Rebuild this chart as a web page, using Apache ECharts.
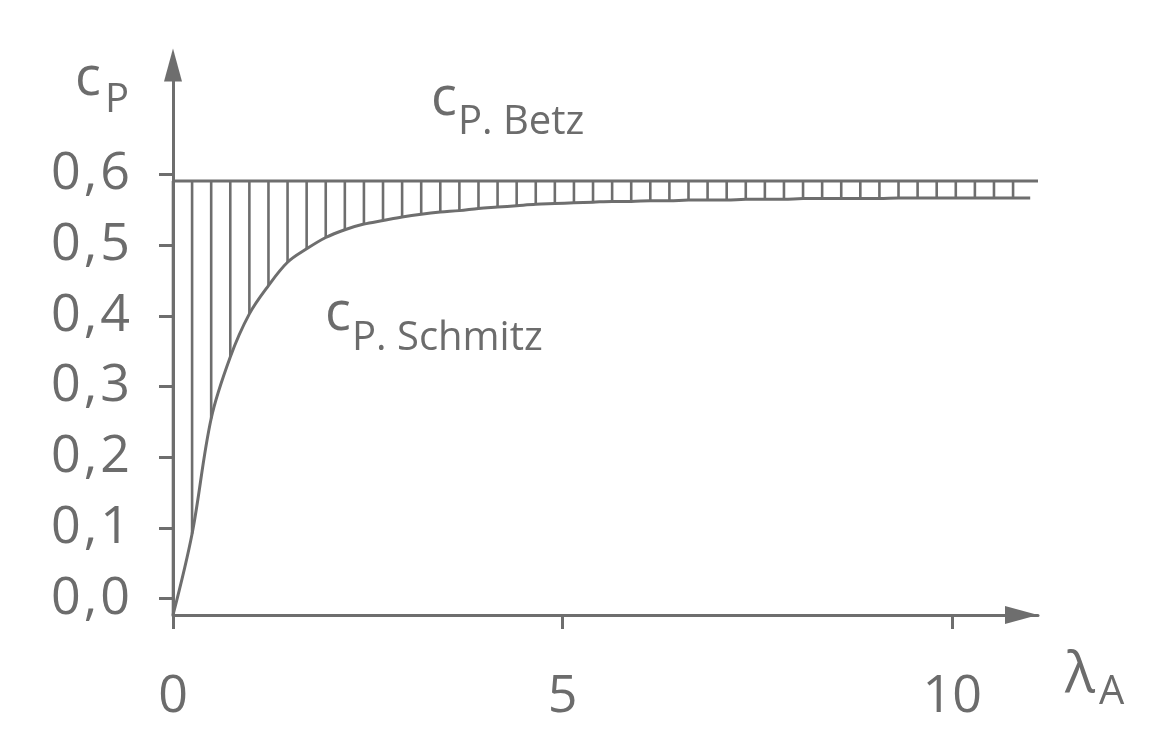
<!DOCTYPE html>
<html>
<head>
<meta charset="utf-8">
<script src="https://cdn.jsdelivr.net/npm/echarts@6/dist/echarts.min.js"></script>
<style>
html,body{margin:0;padding:0;background:#fff;}
#chart{width:1160px;height:752px;}
</style>
</head>
<body>
<div id="chart"></div>
<script>
// Tip speed ratio λ_A at the hatch lines (plus curve end)
const lambdaA = [0, 0.245, 0.49, 0.735, 0.98, 1.225, 1.47, 1.715, 1.96, 2.205, 2.45, 2.695, 2.94, 3.185, 3.43, 3.675, 3.92, 4.165, 4.41, 4.655, 4.9, 5.145, 5.39, 5.635, 5.88, 6.125, 6.37, 6.615, 6.86, 7.105, 7.35, 7.595, 7.84, 8.085, 8.33, 8.575, 8.82, 9.065, 9.31, 9.555, 9.8, 10.045, 10.29, 10.535, 10.78, 11.0];
// c_P Schmitz curve values read at those positions
const cpSchmitz = [-0.023, 0.092, 0.255, 0.342, 0.403, 0.443, 0.476, 0.495, 0.511, 0.522, 0.530, 0.535, 0.540, 0.544, 0.547, 0.549, 0.552, 0.554, 0.556, 0.558, 0.559, 0.560, 0.561, 0.562, 0.562, 0.563, 0.563, 0.564, 0.564, 0.564, 0.565, 0.565, 0.565, 0.566, 0.566, 0.566, 0.566, 0.566, 0.567, 0.567, 0.567, 0.567, 0.567, 0.567, 0.567, 0.567];
// Betz limit line
const betzLambda = [0, 11.1];
const cpBetz = [0.591, 0.591];
// tick labels
const xTicks = [0, 5, 10];
const yTicks = [0, 0.1, 0.2, 0.3, 0.4, 0.5, 0.6];
const hatchCount = 45;

const GREY = '#6e6e6e';
const TXT = '#6c6c6c';
const FONT = '"Open Sans", "Noto Sans", sans-serif';

const schmitzData = lambdaA.map((x, i) => [x, cpSchmitz[i]]);
const hatchData = schmitzData.slice(0, hatchCount);
const betzData = betzLambda.map((x, i) => [x, cpBetz[i]]);

const chart = echarts.init(document.getElementById('chart'), null, {renderer: 'canvas'});
chart.setOption({
  animation: false,
  backgroundColor: '#ffffff',
  grid: {left: 173, right: 122, top: 65, bottom: 137, containLabel: false},
  xAxis: {
    type: 'value', min: 0, max: 11.1,
    axisLine: {onZero: false, lineStyle: {color: GREY, width: 3}, symbol: ['none', 'triangle'], symbolSize: [18, 33], symbolOffset: [0, -16.5]},
    axisTick: {show: true, length: 14, lineStyle: {color: GREY, width: 3}, customValues: xTicks},
    axisLabel: {customValues: xTicks, margin: 56, color: TXT, fontSize: 52, fontFamily: FONT},
    splitLine: {show: false}
  },
  yAxis: {
    type: 'value', min: -0.023, max: 0.755,
    axisLine: {onZero: false, lineStyle: {color: GREY, width: 3}, symbol: ['none', 'triangle'], symbolSize: [18, 33]},
    axisTick: {show: true, length: 14, lineStyle: {color: GREY, width: 3}, customValues: yTicks},
    axisLabel: {
      customValues: yTicks, margin: 43, color: TXT, fontSize: 52, fontFamily: FONT,
      formatter: v => { const s = v.toFixed(1).split('.'); return s[0] + '{c|,}' + s[1]; },
      rich: {c: {color: TXT, fontSize: 52, fontFamily: FONT, padding: [0, 3, 0, 3]}}
    },
    splitLine: {show: false}
  },
  series: [
    {
      type: 'custom', name: 'hatch', silent: true, clip: false,
      data: hatchData,
      renderItem: (params, api) => {
        const x = api.value(0);
        const p1 = api.coord([x, cpBetz[0]]);
        const p2 = api.coord([x, api.value(1)]);
        return {type: 'line', shape: {x1: p1[0], y1: p1[1], x2: p2[0], y2: p2[1]},
                style: {stroke: GREY, lineWidth: 2.6}};
      },
      z: 2
    },
    {
      type: 'line', name: 'cP Betz', data: betzData, clip: false, showSymbol: false,
      lineStyle: {color: GREY, width: 3}, z: 3
    },
    {
      type: 'line', name: 'cP Schmitz', data: schmitzData, clip: false, showSymbol: false,
      smooth: 0.35,
      lineStyle: {color: GREY, width: 3}, z: 3
    }
  ],
  graphic: [
    {type: 'text', left: 75, top: 53, style: {text: 'c', fill: TXT, font: '54px ' + FONT}},
    {type: 'text', left: 105, top: 81, style: {text: 'P', fill: TXT, font: '40px ' + FONT}},
    {type: 'text', left: 431, top: 73, style: {text: 'c', fill: TXT, font: '54px ' + FONT}},
    {type: 'text', left: 458, top: 103, style: {text: 'P. Betz', fill: TXT, font: '40px ' + FONT}},
    {type: 'text', left: 325, top: 288, style: {text: 'c', fill: TXT, font: '54px ' + FONT}},
    {type: 'text', left: 352, top: 319, style: {text: 'P. Schmitz', fill: TXT, font: '40px ' + FONT}},
    {type: 'text', left: 1065, top: 648, style: {text: 'λ', fill: TXT, font: '56px ' + FONT}},
    {type: 'text', left: 1099, top: 673, style: {text: 'A', fill: TXT, font: '40px ' + FONT}}
  ]
});
</script>
</body>
</html>
